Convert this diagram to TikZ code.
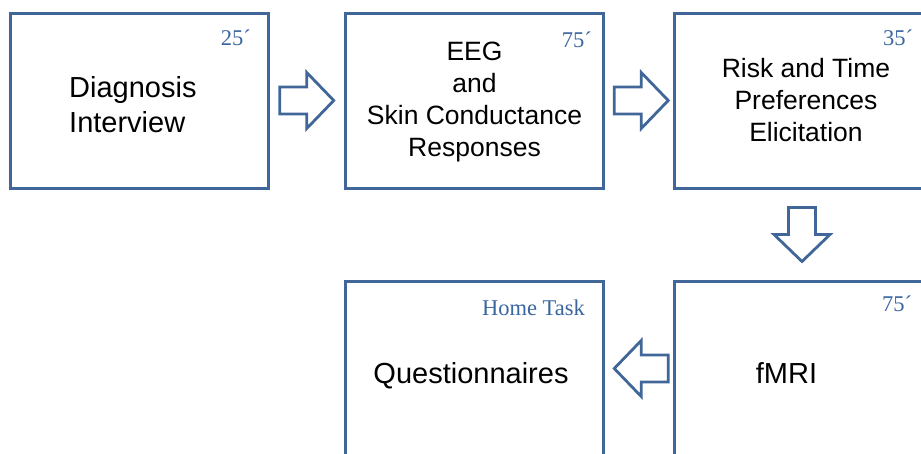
\documentclass[tikz,border=0pt]{standalone}
\usepackage{fontspec}
\setmainfont{Liberation Sans}
\newfontfamily\labelserif{Liberation Serif}
\usetikzlibrary{calc}

\definecolor{frameblue}{RGB}{64,103,152}
\definecolor{tagblue}{RGB}{58,102,160}

\tikzset{
  stagebox/.style={draw=frameblue, line width=3pt, fill=white,
    minimum width=258pt, minimum height=175pt, inner sep=0pt},
  bigtext/.style={inner sep=0pt, font=\fontsize{29}{35}\selectfont},
  midtext/.style={inner sep=0pt, align=center, font=\fontsize{26.5}{32.2}\selectfont},
  timetag/.style={inner sep=0pt, text=tagblue, font=\labelserif\fontsize{22.5}{26}\selectfont},
  arrowline/.style={draw=frameblue, line width=2.8pt, fill=white, line join=miter},
  blockarrow/.pic={
    \path[arrowline] (-27,-13.5) -- (0,-13.5) -- (0,-28) -- (27,0)
      -- (0,28) -- (0,13.5) -- (-27,13.5) -- cycle;
  }
}

\begin{document}
\begin{tikzpicture}[x=1pt, y=-1pt]
  \useasboundingbox (0,0) rectangle (921,453);
  \clip (0,0) rectangle (921,453);

  % the five stages
  \node[stagebox] (diag)  at (139,100.5) {};
  \node[stagebox] (eeg)   at (474.5,100.5) {};
  \node[stagebox] (risk)  at (803,100.5) {};
  \node[stagebox] (fmri)  at (803,368.5) {};
  \node[stagebox] (quest) at (474.5,368.5) {};

  % stage titles
  \node[bigtext, align=left, anchor=west] (diagtxt) at (69,105) {Diagnosis\\Interview};
  \node[midtext] (eegtxt) at (474.5,102) {EEG\\and\\Skin Conductance\\Responses};
  \node[midtext] (risktxt) at (806,100) {Risk and Time\\Preferences\\Elicitation};
  \node[bigtext, anchor=base] (questtxt) at (471,383) {Questionnaires};
  \node[bigtext, anchor=base] (fmritxt) at (786.5,383) {fMRI};

  % durations
  \node[timetag, anchor=base east] (t1) at (251,45) {25´};
  \node[timetag, anchor=base east] (t2) at (592,47) {75´};
  \node[timetag, anchor=base west] (t3) at (883,45) {35´};
  \node[timetag, anchor=base west] (t4) at (882,311) {75´};
  \node[timetag, anchor=base east] (t5) at (585,315) {Home Task};

  % block arrows between consecutive stages
  \path ($(diag.east)!0.5!(eeg.west)$) pic {blockarrow};
  \path ($(eeg.east)!0.5!(risk.west)$) ++(2.5,0) pic {blockarrow};
  \path ($(risk.south)!0.5!(fmri.north)$) ++(-1,0) pic[rotate=-90] {blockarrow};
  \path ($(fmri.west)!0.5!(quest.east)$) ++(2.5,0) pic[rotate=180] {blockarrow};
\end{tikzpicture}
\end{document}
